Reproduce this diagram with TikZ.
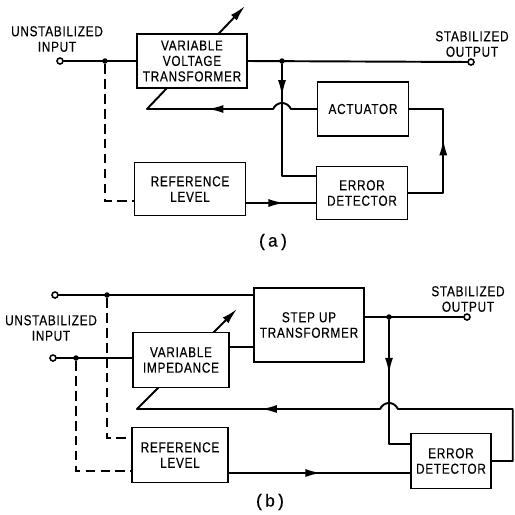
\documentclass[tikz,border=0pt]{standalone}
\usepackage{fontspec}
\usepackage{tikz}
\usetikzlibrary{arrows.meta,positioning,decorations.markings,backgrounds}
\newfontfamily\lblfont[FakeStretch=0.82,LetterSpace=5,FakeBold=0.3]{Liberation Sans}
\newfontfamily\capfont[FakeBold=0.4]{Liberation Mono}

\begin{document}
\begin{tikzpicture}[x=0.02cm,y=-0.02cm,every node/.style={font=\lblfont\fontsize{8.2}{8.8}\selectfont,align=center},
box/.style={draw,line width=0.9pt,fill=white,inner sep=1pt},
wire/.style={line width=1.1pt,line cap=round,line join=round},
wirearr/.style={wire,-{Latex[length=3.2mm,width=1.6mm]}},
midarr/.style={postaction={decorate},decoration={markings,mark=at position #1 with {\arrow{Latex[length=3.2mm,width=1.6mm]}}}},
dashwire/.style={line width=1pt,dash pattern=on 5.5pt off 3pt},
term/.style={circle,draw,line width=0.9pt,fill=white,inner sep=0pt,minimum size=0.12cm},
junc/.style={circle,fill,inner sep=0pt,minimum size=0.11cm}]
\useasboundingbox (0,0) rectangle (515,515);
% (a)
\node[term] (inA) at (60,61) {};
\node[junc] (jA) at (105,61) {};
\node[box,minimum width=2.2cm,minimum height=1.08cm] (vvt) at (192,61) {VARIABLE\\VOLTAGE\\TRANSFORMER};
\node[junc] (jB) at (282,61) {};
\node[term] (outA) at (471,62) {};
\node[box,minimum width=1.82cm,minimum height=1.08cm] (act) at (363,109) {ACTUATOR};
\node[box,minimum width=1.82cm,minimum height=1.06cm] (edA) at (362,193) {ERROR\\DETECTOR};
\node[box,minimum width=2.22cm,minimum height=1.06cm] (refA) at (190,189) {REFERENCE\\LEVEL};
\node (uinA) at (57,39) {UNSTABILIZED\\INPUT};
\node (soutA) at (472,44) {STABILIZED\\OUTPUT};
\node[font=\capfont\fontsize{10}{12}\selectfont] (capA) at (273,242) {(a)};
\coordinate (hopAR) at (291,109);
\coordinate (hopAL) at (273,109);
\coordinate (cA) at (147,109);
\coordinate (tipA) at (245,6);
\draw[wire] (inA) -- (vvt);
\draw[wire] (vvt.east) -- (outA);
\draw[wire,midarr=0.22] (jB) |- (edA.west |- 0,176);
\draw[wire] (act) -- (hopAR) .. controls (287,101) and (277,101) .. (hopAL);
\draw[wire,midarr=0.52] (hopAL) -- (cA);
\draw[wire,midarr=0.58] (edA.east) -- ++(35,0) |- (act.east);
\draw[wire,midarr=0.55] (refA.east |- 0,203) -- (edA.west |- 0,203);
\draw[dashwire] (jA) |- (refA.west |- 0,201);
% (b)
\node[term] (inB1) at (55,295) {};
\node[junc] (jC) at (107,295) {};
\node[term] (inB2) at (53,358) {};
\node[junc] (jD) at (76,358) {};
\node[box,minimum width=1.92cm,minimum height=1.1cm] (vi) at (181,360) {VARIABLE\\IMPEDANCE};
\node[box,minimum width=2.2cm,minimum height=1.48cm] (sut) at (309,325) {STEP UP\\TRANSFORMER};
\node[junc] (jE) at (389,317) {};
\node[term] (outB) at (467,317) {};
\node[box,minimum width=1.6cm,minimum height=1.1cm] (edB) at (451,461) {ERROR\\DETECTOR};
\node[box,minimum width=1.92cm,minimum height=1.1cm] (refB) at (180,455) {REFERENCE\\LEVEL};
\node (uinB) at (51,328) {UNSTABILIZED\\INPUT};
\node (soutB) at (468,299) {STABILIZED\\OUTPUT};
\node[font=\capfont\fontsize{10}{12}\selectfont] (capB) at (270,502) {(b)};
\coordinate (hopBR) at (398,409);
\coordinate (hopBL) at (380,409);
\coordinate (cB) at (137,409);
\coordinate (tipB) at (237,309);
\draw[wire] (inB1) -- (sut.west |- inB1);
\draw[wire] (inB2) -- (vi.west |- inB2);
\draw[wire] (vi.east |- 0,347) -- (sut.west |- 0,347);
\draw[wire] (sut.east |- jE) -- (outB);
\draw[wire,midarr=0.37] (jE) |- (edB.west |- 0,444);
\draw[wire] (edB.east) -- ++(21,0) |- (hopBR) .. controls (394,401) and (384,401) .. (hopBL);
\draw[wire,midarr=0.49] (hopBL) -- (cB);
\draw[wire,midarr=0.51] (refB.east |- 0,473) -- (edB.west |- 0,473);
\draw[dashwire] (jC) |- (refB.west |- 0,438);
\draw[dashwire] (jD) |- (refB.west |- 0,471);
% variable arrows behind the boxes
\begin{scope}[on background layer]
\draw[wirearr] (cA) -- (tipA);
\draw[wirearr] (cB) -- (tipB);
\end{scope}
\end{tikzpicture}
\end{document}
